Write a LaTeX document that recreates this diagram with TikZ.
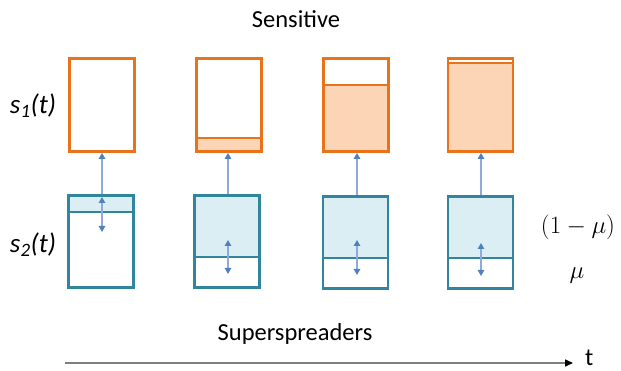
\documentclass[tikz,border=0pt]{standalone}
\usepackage{fontspec}
\newfontfamily\calib{Carlito}
\usetikzlibrary{arrows.meta}
\definecolor{orgline}{HTML}{E9731A}
\definecolor{orgfill}{HTML}{FBD5B5}
\definecolor{tealline}{HTML}{31859C}
\definecolor{tealfill}{HTML}{DAEEF3}
\definecolor{arrline}{HTML}{8EAADB}
\definecolor{arrtip}{HTML}{4F81BD}
\definecolor{timeline}{HTML}{7F7F7F}
\tikzset{
  obox/.style={draw=orgline, line width=2.8pt, minimum width=65pt, minimum height=93pt, inner sep=0pt},
  tbox/.style={draw=tealline, line width=2.8pt, minimum width=65pt, minimum height=92pt, inner sep=0pt},
  odiv/.style={draw=orgline, line width=2.8pt},
  tdiv/.style={draw=tealline, line width=2.8pt},
  uparr/.style={draw=arrline, line width=1.3pt, -{Triangle[length=6pt,width=6.5pt,color=arrtip]}},
  dblarr/.style={draw=arrline, line width=1.3pt, {Triangle[length=6pt,width=6.5pt,color=arrtip]}-{Triangle[length=6pt,width=6.5pt,color=arrtip]}},
  lbl/.style={font=\calib\fontsize{24.5}{26}\selectfont, inner sep=0pt},
  slbl/.style={font=\calib\itshape\fontsize{27}{29}\selectfont, inner sep=0pt},
  mlbl/.style={inner sep=0pt, font=\fontsize{25}{28}\selectfont},
}
\begin{document}
\begin{tikzpicture}[x=1pt,y=-1pt]
\useasboundingbox (0,0) rectangle (621,371);
% fills
\fill[orgfill] (195,138) rectangle (263,153);
\fill[orgfill] (322,85) rectangle (390,153);
\fill[orgfill] (447,63) rectangle (514,153);
\fill[tealfill] (67,194) rectangle (135,212);
\fill[tealfill] (193,194) rectangle (261,257);
\fill[tealfill] (322,195) rectangle (389,258);
\fill[tealfill] (447,195) rectangle (514,258);
% boxes
\node[obox] (o1) at (102,105) {};
\node[obox] (o2) at (229,105) {};
\node[obox] (o3) at (356,105) {};
\node[obox] (o4) at (480.5,105) {};
\node[tbox] (t1) at (101,241.5) {};
\node[tbox] (t2) at (227,241.5) {};
\node[tbox] (t3) at (355.5,242.5) {};
\node[tbox] (t4) at (480.5,242.5) {};
% dividers
\draw[odiv] (o2.west |- 0,138) -- (o2.east |- 0,138);
\draw[odiv] (o3.west |- 0,85) -- (o3.east |- 0,85);
\draw[odiv] (o4.west |- 0,63) -- (o4.east |- 0,63);
\draw[tdiv] (t1.west |- 0,212) -- (t1.east |- 0,212);
\draw[tdiv] (t2.west |- 0,257) -- (t2.east |- 0,257);
\draw[tdiv] (t3.west |- 0,258) -- (t3.east |- 0,258);
\draw[tdiv] (t4.west |- 0,258) -- (t4.east |- 0,258);
% arrows between rows
\coordinate (u1) at (102,194); \coordinate (u2) at (228,194);
\coordinate (u3) at (357,195); \coordinate (u4) at (481,195);
\draw[uparr] (u1) -- (u1 |- o1.south);
\draw[uparr] (u2) -- (u2 |- o2.south);
\draw[uparr] (u3) -- (u3 |- o3.south);
\draw[uparr] (u4) -- (u4 |- o4.south);
% double arrows
\coordinate (d1a) at (102,197); \coordinate (d1b) at (102,232);
\coordinate (d2a) at (228,240); \coordinate (d2b) at (228,274);
\coordinate (d3a) at (357,240); \coordinate (d3b) at (357,275);
\coordinate (d4a) at (481,243); \coordinate (d4b) at (481,276);
\draw[dblarr] (d1a) -- (d1b);
\draw[dblarr] (d2a) -- (d2b);
\draw[dblarr] (d3a) -- (d3b);
\draw[dblarr] (d4a) -- (d4b);
% labels
\node[lbl] (sens) at (296,19) {Sensitive};
\node[lbl] (sup) at (295,334) {Superspreaders};
\node[slbl] (s1) at (33,106) {s\textsubscript{1}(t)};
\node[slbl] (s2) at (33,245) {s\textsubscript{2}(t)};
\node[mlbl] (mu1) at (578,227) {$(1-\mu)$};
\node[mlbl] (mu2) at (577,276) {$\mu$};
% time axis
\coordinate (ta) at (65,363);
\coordinate (tb) at (573,363);
\node[lbl, anchor=west] (t) at (585,358) {t};
\draw[draw=timeline, line width=1.5pt, -{Triangle[length=8pt,width=7pt,color=black]}] (ta) -- (tb);
\end{tikzpicture}
\end{document}
